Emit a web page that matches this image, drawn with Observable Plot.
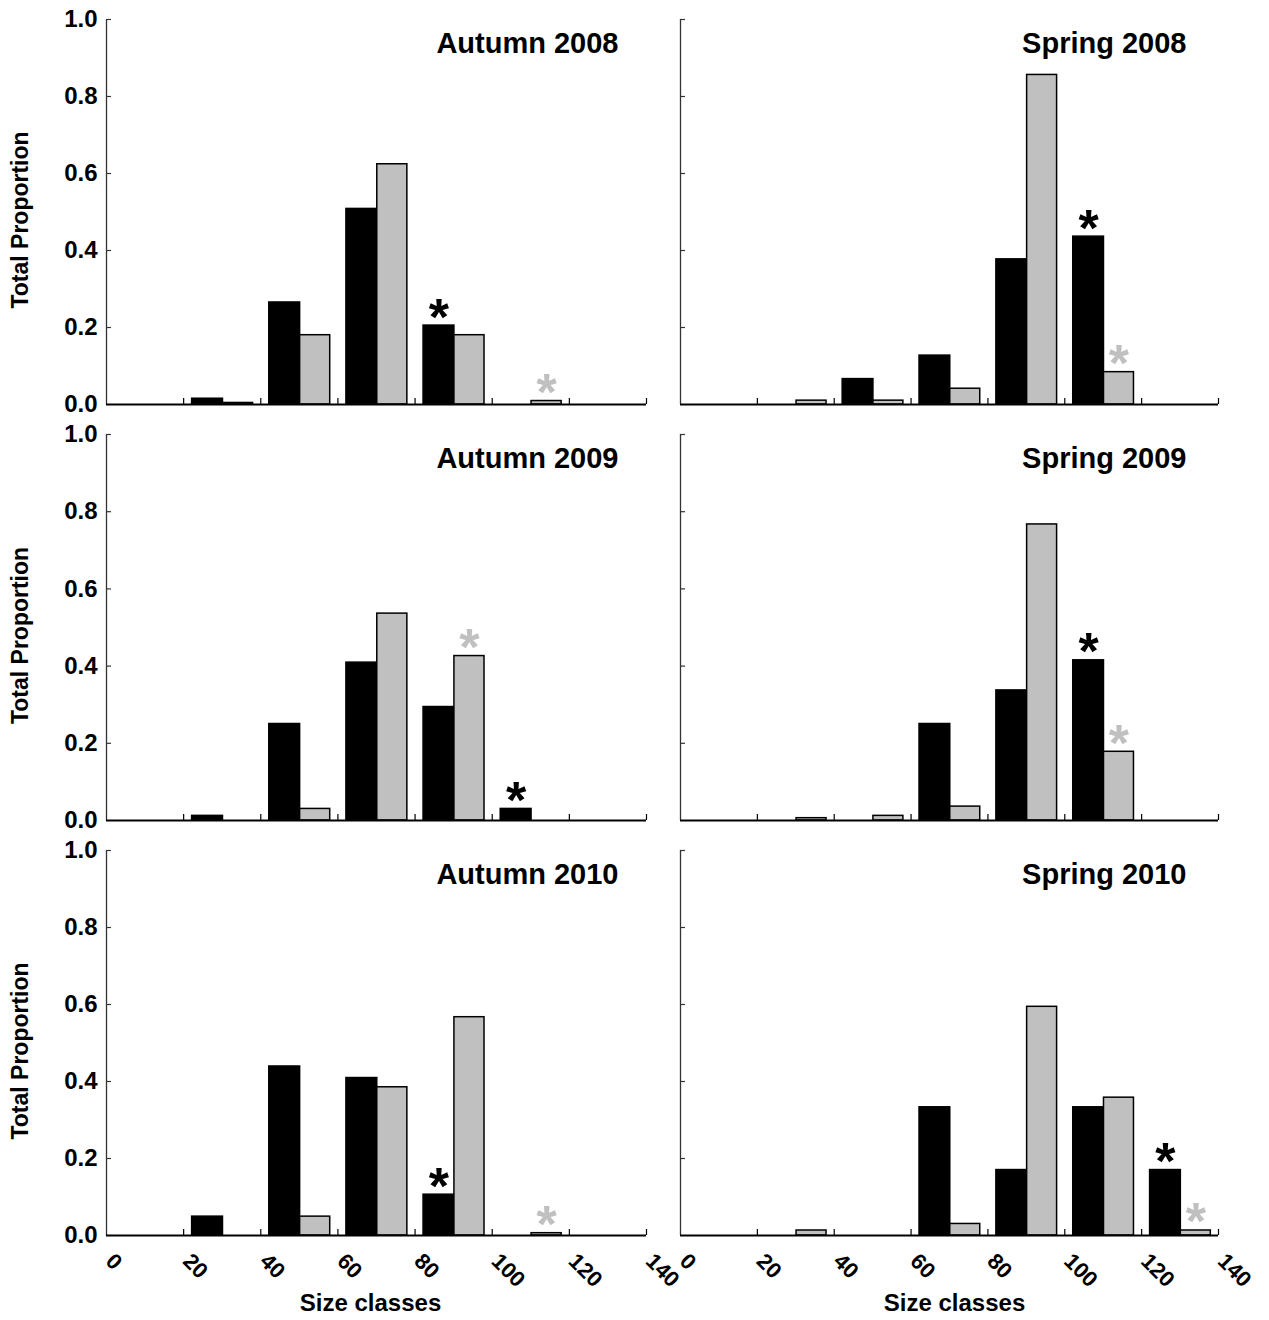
<!DOCTYPE html>
<html>
<head>
<meta charset="utf-8">
<script src="https://cdn.jsdelivr.net/npm/d3@7"></script>
<script src="https://cdn.jsdelivr.net/npm/@observablehq/plot@0.6"></script>
<style>
  body { margin: 0; background: #ffffff; }
  #chart { position: relative; width: 1269px; height: 1320px; background: #ffffff; font-family: "Liberation Sans", Arial, sans-serif; }
  #chart > div { position: absolute; }
  svg { overflow: visible; }
</style>
</head>
<body>
<div id="chart"></div>
<script>
// ---------- DATA ----------
const sizeClasses = [20, 40, 60, 80, 100, 120];          // start of each size class
const xTicks = [0, 20, 40, 60, 80, 100, 120, 140];
const yTicks = [0, 0.2, 0.4, 0.6, 0.8, 1.0];
const seriesNames = ["series1", "series2"];
const seriesColors = ["#000000", "#c0c0c0"];

const autumn2008Black = [0.015, 0.265, 0.508, 0.205, 0, 0];
const autumn2008Grey  = [0.004, 0.180, 0.624, 0.180, 0.009, 0];
const autumn2008BlackStars = [80];
const autumn2008GreyStars  = [100];

const spring2008Black = [0, 0.066, 0.127, 0.377, 0.436, 0];
const spring2008Grey  = [0.010, 0.010, 0.041, 0.856, 0.084, 0];
const spring2008BlackStars = [100];
const spring2008GreyStars  = [100];

const autumn2009Black = [0.012, 0.250, 0.409, 0.294, 0.030, 0];
const autumn2009Grey  = [0, 0.030, 0.536, 0.426, 0, 0];
const autumn2009BlackStars = [100];
const autumn2009GreyStars  = [80];

const spring2009Black = [0, 0, 0.250, 0.337, 0.415, 0];
const spring2009Grey  = [0.006, 0.012, 0.036, 0.767, 0.178, 0];
const spring2009BlackStars = [100];
const spring2009GreyStars  = [100];

const autumn2010Black = [0.049, 0.439, 0.409, 0.106, 0, 0];
const autumn2010Grey  = [0, 0.049, 0.385, 0.567, 0.006, 0];
const autumn2010BlackStars = [80];
const autumn2010GreyStars  = [100];

const spring2010Black = [0, 0, 0.333, 0.170, 0.333, 0.170];
const spring2010Grey  = [0.013, 0, 0.030, 0.594, 0.358, 0.013];
const spring2010BlackStars = [120];
const spring2010GreyStars  = [120];

const panels = [
  {title: "Autumn 2008", black: autumn2008Black, grey: autumn2008Grey, bStars: autumn2008BlackStars, gStars: autumn2008GreyStars, col: 0, row: 0},
  {title: "Spring 2008", black: spring2008Black, grey: spring2008Grey, bStars: spring2008BlackStars, gStars: spring2008GreyStars, col: 1, row: 0},
  {title: "Autumn 2009", black: autumn2009Black, grey: autumn2009Grey, bStars: autumn2009BlackStars, gStars: autumn2009GreyStars, col: 0, row: 1},
  {title: "Spring 2009", black: spring2009Black, grey: spring2009Grey, bStars: spring2009BlackStars, gStars: spring2009GreyStars, col: 1, row: 1},
  {title: "Autumn 2010", black: autumn2010Black, grey: autumn2010Grey, bStars: autumn2010BlackStars, gStars: autumn2010GreyStars, col: 0, row: 2},
  {title: "Spring 2010", black: spring2010Black, grey: spring2010Grey, bStars: spring2010BlackStars, gStars: spring2010GreyStars, col: 1, row: 2}
];

// ---------- LAYOUT ----------
const cols = [
  {left: 0,   width: 680, marginLeft: 106, marginRight: 34, titleDx: -28, xlabDx: -6},
  {left: 660, width: 609, marginLeft: 20,  marginRight: 51, titleDx: -32, xlabDx: 5}
];
const rows = [
  {top: 0,   height: 420, marginTop: 19, marginBottom: 16},
  {top: 420, height: 416, marginTop: 14, marginBottom: 16},
  {top: 836, height: 484, marginTop: 14, marginBottom: 85}
];
// bar placement inside each 20-unit class
const barOffset = {series1: [2.2, 10.2], series2: [10.2, 18.0]};

const font = `"Liberation Sans", Arial, Helvetica, sans-serif`;
const chart = document.getElementById("chart");

for (const p of panels) {
  const C = cols[p.col], R = rows[p.row];
  const plotW = C.width - C.marginLeft - C.marginRight;
  const plotH = R.height - R.marginTop - R.marginBottom;
  const pxX = plotW / 140, pxY = plotH / 1;

  const bars = [];
  sizeClasses.forEach((c, i) => {
    if (p.black[i] > 0) bars.push({c, v: p.black[i], s: "series1"});
    if (p.grey[i] > 0) bars.push({c, v: p.grey[i], s: "series2"});
  });
  const stars = [];
  for (const c of p.bStars) stars.push({c, v: p.black[sizeClasses.indexOf(c)], s: "series1"});
  for (const c of p.gStars) stars.push({c, v: p.grey[sizeClasses.indexOf(c)], s: "series2"});

  const marks = [
    Plot.rectY(bars, {
      x1: d => d.c + barOffset[d.s][0],
      x2: d => d.c + barOffset[d.s][1],
      y1: 0, y2: "v",
      fill: "s", stroke: "#000", strokeWidth: 1.5
    }),
    Plot.text(stars, {
      x: d => d.c + (barOffset[d.s][0] + barOffset[d.s][1]) / 2,
      y: "v",
      text: () => "*",
      fill: "s",
      fontSize: 52, fontWeight: "bold",
      lineAnchor: "bottom", dy: 9
    }),
    // axis lines
    Plot.ruleX([0], {y1: 0, y2: 1, stroke: "#333", strokeWidth: 1.3}),
    Plot.ruleY([0], {x1: 0, x2: 140, stroke: "#000", strokeWidth: 2}),
    // inward ticks
    Plot.ruleX(xTicks.filter(t => t > 0), {x: d => d, y1: 0, y2: 6 / pxY, stroke: "#000", strokeWidth: 1.2}),
    Plot.ruleY(yTicks.filter(t => t > 0), {y: d => d, x1: 0, x2: 5 / pxX, stroke: "#333", strokeWidth: 1.2}),
    // panel title
    Plot.text([p.title], {text: d => d, frameAnchor: "top-right", textAnchor: "end", lineAnchor: "top",
      dx: C.titleDx, dy: 13, fontSize: 29, fontWeight: "bold", fill: "#000"})
  ];
  if (p.col === 0) {
    marks.push(Plot.axisY({ticks: yTicks, tickFormat: d3.format(".1f"), tickSize: 0, tickPadding: 9,
      fontSize: 24, fontWeight: "bold", label: null}));
    marks.push(Plot.text(["Total Proportion"], {text: d => d, frameAnchor: "left", rotate: -90,
      textAnchor: "middle", lineAnchor: "middle",
      dx: -86, dy: 8, fontSize: 23, fontWeight: "bold", fill: "#000"}));
  }
  if (p.row === 2) {
    marks.push(Plot.axisX({ticks: xTicks, tickSize: 0, tickPadding: 22, tickRotate: 45, dx: 3,
      fontSize: 22, fontWeight: "bold", label: null}));
    marks.push(Plot.text(["Size classes"], {text: d => d, frameAnchor: "bottom", lineAnchor: "middle",
      dx: C.xlabDx, dy: 68, fontSize: 24, fontWeight: "bold", fill: "#000"}));
  }

  const svg = Plot.plot({
    width: C.width, height: R.height,
    marginLeft: C.marginLeft, marginRight: C.marginRight,
    marginTop: R.marginTop, marginBottom: R.marginBottom,
    x: {domain: [0, 140], axis: p.row === 2 ? undefined : null},
    y: {domain: [0, 1], axis: p.col === 0 ? undefined : null},
    color: {domain: seriesNames, range: seriesColors},
    style: {fontFamily: font, fontWeight: "bold", color: "#000", background: "transparent", overflow: "visible"},
    marks
  });
  const holder = document.createElement("div");
  holder.style.left = C.left + "px";
  holder.style.top = R.top + "px";
  holder.style.width = C.width + "px";
  holder.style.height = R.height + "px";
  holder.appendChild(svg);
  chart.appendChild(holder);
}
</script>
</body>
</html>
